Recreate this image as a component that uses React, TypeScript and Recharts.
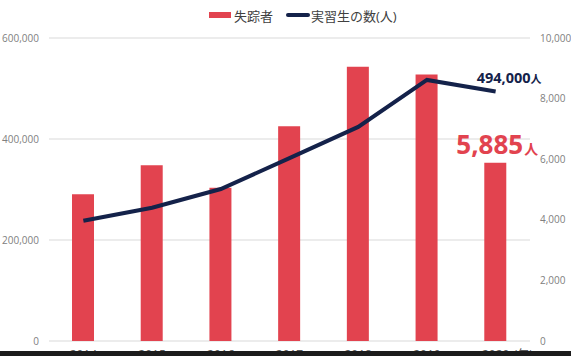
import {
  ComposedChart,
  Bar,
  Line,
  XAxis,
  YAxis,
  CartesianGrid,
  Legend,
  LabelList,
} from "recharts";

const years = ["2014", "2015", "2016", "2017", "2018", "2019", "2020"];
const missing = [4847, 5803, 5058, 7089, 9052, 8796, 5885];
const trainees = [238000, 264000, 301000, 362000, 424000, 517000, 494000];
const leftTicks = [0, 200000, 400000, 600000];
const rightTicks = [0, 2000, 4000, 6000, 8000, 10000];
const yearUnit = "(年)";
const personUnit = "人";

const FONT = '"Open Sans", "Noto Sans CJK JP", sans-serif';
const RED = "#e2434f";
const NAVY = "#14224a";

const fmt = (v: number) => v.toLocaleString("en-US");

const data = years.map((year, i) => ({
  year,
  missing: missing[i],
  trainees: trainees[i],
}));

const last = years.length - 1;

function YearTick({ x, y, payload, index }: any) {
  return (
    <g>
      <text x={x} y={y} dy="0.71em" textAnchor="middle" fontSize={12} fill="#595959" fontFamily={FONT}>
        {payload.value}
      </text>
      {index === last && (
        <text x={x + 18} y={y} dy="0.71em" textAnchor="start" fontSize={12} fill="#595959" fontFamily={FONT}>
          {yearUnit}
        </text>
      )}
    </g>
  );
}

function TraineeLabel({ x, y, value, index }: any) {
  if (index !== last) return null;
  return (
    <text x={x - 19} y={y - 9} fill={NAVY} fontFamily={FONT} fontWeight={700}>
      <tspan fontSize={14.5}>{fmt(value)}</tspan>
      <tspan fontSize={11}>{personUnit}</tspan>
    </text>
  );
}

function MissingLabel({ x, y, value, index }: any) {
  if (index !== last) return null;
  return (
    <text x={x - 28} y={y - 9} fill={RED} fontFamily={FONT} fontWeight={700}>
      <tspan fontSize={26}>{fmt(value)}</tspan>
      <tspan fontSize={14} dx={1}>{personUnit}</tspan>
    </text>
  );
}

function LegendBox() {
  return (
    <div
      style={{
        height: 22,
        display: "flex",
        alignItems: "center",
        paddingLeft: 209,
        fontFamily: FONT,
        fontSize: 13,
        color: "#404040",
      }}
    >
      <span style={{ width: 22, height: 6, background: RED, display: "inline-block" }} />
      <span style={{ marginLeft: 3 }}>失踪者</span>
      <span
        style={{
          width: 24,
          height: 4,
          borderRadius: 2,
          background: NAVY,
          display: "inline-block",
          marginLeft: 13,
        }}
      />
      <span style={{ marginLeft: 1 }}>実習生の数(人)</span>
    </div>
  );
}

export default function App() {
  return (
    <div style={{ position: "absolute", left: 0, top: 0, width: 571, height: 356, overflow: "hidden", background: "#fff" }}>
      <ComposedChart
        width={571}
        height={400}
        data={data}
        margin={{ top: 16, right: 0, left: 0, bottom: 0 }}
        barCategoryGap={0}
      >
        <Legend
          verticalAlign="top"
          align="left"
          content={<LegendBox />}
          wrapperStyle={{ top: 4, left: 0, width: 571 }}
        />
        <CartesianGrid yAxisId="left" vertical={false} stroke="#d9d9d9" />
        <XAxis
          dataKey="year"
          height={59}
          axisLine={false}
          tickLine={false}
          tickSize={0}
          tickMargin={9}
          interval={0}
          tick={<YearTick />}
        />
        <YAxis
          yAxisId="left"
          width={49}
          domain={[0, 600000]}
          ticks={leftTicks}
          axisLine={false}
          tickLine={false}
          tickSize={0}
          tickMargin={10}
          tickFormatter={fmt}
          tick={{ fontSize: 10, fill: "#808080", fontFamily: FONT }}
        />
        <YAxis
          yAxisId="right"
          orientation="right"
          width={41}
          domain={[0, 10000]}
          ticks={rightTicks}
          axisLine={false}
          tickLine={false}
          tickSize={0}
          tickMargin={10}
          tickFormatter={fmt}
          tick={{ fontSize: 10, fill: "#808080", fontFamily: FONT }}
        />
        <Bar
          yAxisId="right"
          dataKey="missing"
          name="失踪者"
          fill={RED}
          barSize={22}
          isAnimationActive={false}
        >
          <LabelList dataKey="missing" content={<MissingLabel />} />
        </Bar>
        <Line
          yAxisId="left"
          dataKey="trainees"
          name="実習生の数(人)"
          type="linear"
          stroke={NAVY}
          strokeWidth={4}
          dot={false}
          activeDot={false}
          isAnimationActive={false}
        >
          <LabelList dataKey="trainees" content={<TraineeLabel />} />
        </Line>
      </ComposedChart>
      <div style={{ position: "absolute", left: 0, top: 351, width: 571, height: 5, background: "#1c1c1c" }} />
    </div>
  );
}
